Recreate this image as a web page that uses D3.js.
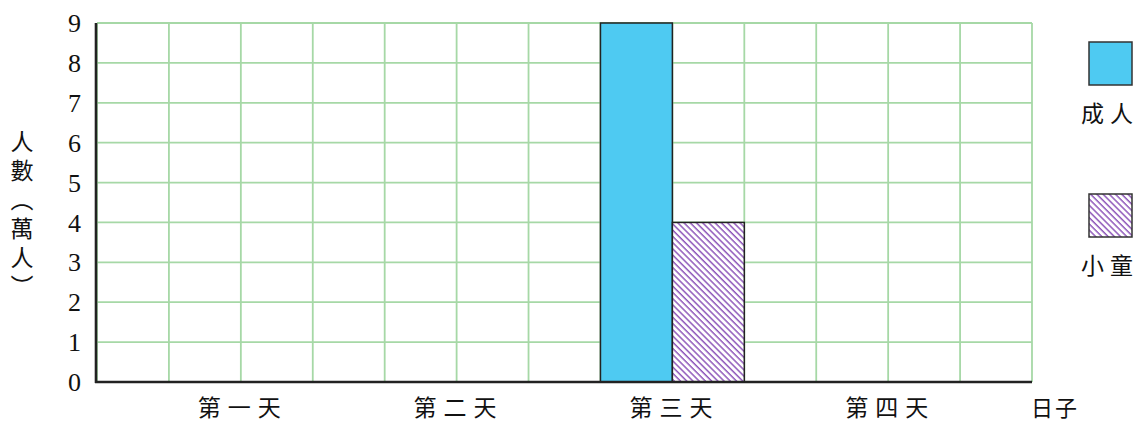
<!DOCTYPE html>
<html>
<head>
<meta charset="utf-8">
<script src="https://cdn.jsdelivr.net/npm/d3@7"></script>
<style>
  body { margin: 0; background: #fff; }
  svg { display: block; }
</style>
</head>
<body>
<div id="chart"></div>
<script>
// data (days 1, 2, 4 left blank in the original)
const days = ["第一天", "第二天", "第三天", "第四天"];
const series = ["成人", "小童"];
const adults = [null, null, 9, null];
const children = [null, null, 4, null];
const yTicks = [0, 1, 2, 3, 4, 5, 6, 7, 8, 9];
const yLabel = "人數（萬人）";
const xLabel = "日子";

const margin = { top: 23, right: 109, bottom: 41, left: 97 };
const width = 1141 - margin.left - margin.right;
const height = 423 - margin.top - margin.bottom;

const svg = d3.select("#chart")
    .append("svg")
    .attr("width", 1141)
    .attr("height", 423);

const defs = svg.append("defs");
const hatch = defs.append("pattern")
    .attr("id", "hatch")
    .attr("patternUnits", "userSpaceOnUse")
    .attr("width", 4.4)
    .attr("height", 4.4)
    .attr("patternTransform", "rotate(-45)");
hatch.append("rect").attr("width", 4.4).attr("height", 4.4).attr("fill", "#fff");
hatch.append("line")
    .attr("x1", 1).attr("x2", 1)
    .attr("y1", 0).attr("y2", 4.4)
    .attr("stroke", "#7e3fb0")
    .attr("stroke-width", 1.3);

const fills = { "成人": "#4ecaf2", "小童": "url(#hatch)" };

const g = svg.append("g")
    .attr("transform", "translate(" + margin.left + "," + margin.top + ")");

var x = d3.scaleBand()
    .domain(days)
    .range([0, width])
    .paddingInner(1 / 3)
    .paddingOuter(1 / 3);
var xSub = d3.scaleBand()
    .domain(series)
    .range([0, x.bandwidth()]);
var y = d3.scaleLinear()
    .domain([0, 9])
    .range([height, 0]);

// grid: one column per sub band
const col = x.step() / 3;
const nCols = Math.round(width / col);
g.append("g")
    .selectAll("line")
    .data(d3.range(nCols + 1))
    .join("line")
    .attr("x1", d => d * col)
    .attr("x2", d => d * col)
    .attr("y1", 0)
    .attr("y2", height)
    .attr("stroke", "#a6d8a6")
    .attr("stroke-width", 1.8);
g.append("g")
    .selectAll("line")
    .data(yTicks)
    .join("line")
    .attr("x1", 0)
    .attr("x2", width)
    .attr("y1", d => y(d))
    .attr("y2", d => y(d))
    .attr("stroke", "#a6d8a6")
    .attr("stroke-width", 1.8);

// bars
const rows = [];
days.forEach(function (d, i) {
    if (adults[i] != null) rows.push({ day: d, s: "成人", v: adults[i] });
    if (children[i] != null) rows.push({ day: d, s: "小童", v: children[i] });
});
g.append("g")
    .selectAll("rect")
    .data(rows)
    .join("rect")
    .attr("x", d => x(d.day) + xSub(d.s))
    .attr("y", d => y(d.v))
    .attr("width", xSub.bandwidth())
    .attr("height", d => y(0) - y(d.v))
    .attr("fill", d => fills[d.s])
    .attr("stroke", "#222")
    .attr("stroke-width", 1.5);

// axes lines
g.append("line")
    .attr("x1", -1).attr("x2", -1)
    .attr("y1", 0).attr("y2", height + 1)
    .attr("stroke", "#222").attr("stroke-width", 2.6);
g.append("line")
    .attr("x1", -2).attr("x2", width)
    .attr("y1", height).attr("y2", height)
    .attr("stroke", "#222").attr("stroke-width", 2.6);

// y tick labels
g.append("g")
    .selectAll("text")
    .data(yTicks)
    .join("text")
    .attr("x", -16)
    .attr("y", d => y(d))
    .attr("dy", "0.35em")
    .attr("text-anchor", "end")
    .style("font-family", "'Liberation Serif', 'DejaVu Serif', serif")
    .style("font-size", "26px")
    .style("fill", "#111")
    .text(d => d);

// x labels
g.append("g")
    .selectAll("text")
    .data(days)
    .join("text")
    .attr("x", d => x(d) + x.bandwidth() / 2 + 2)
    .attr("y", height + 34)
    .attr("text-anchor", "middle")
    .style("font-family", "'Noto Sans CJK TC', sans-serif")
    .style("font-size", "23px")
    .style("letter-spacing", "7px")
    .style("fill", "#111")
    .text(d => d);

svg.append("text")
    .attr("x", 1055)
    .attr("y", 416)
    .attr("text-anchor", "middle")
    .style("font-family", "'Noto Sans CJK TC', sans-serif")
    .style("font-size", "22px")
    .style("letter-spacing", "2px")
    .style("fill", "#111")
    .text(xLabel);

// vertical y label
svg.append("text")
    .attr("x", 22)
    .attr("y", 130)
    .attr("text-anchor", "start")
    .style("writing-mode", "vertical-rl")
    .style("font-family", "'Noto Sans CJK TC', sans-serif")
    .style("font-size", "23px")
    .style("letter-spacing", "6px")
    .style("fill", "#111")
    .text(yLabel);

// legend
const legend = svg.append("g")
    .selectAll("g")
    .data(series)
    .join("g")
    .attr("transform", (d, i) => "translate(1089," + (42 + i * 152) + ")");
legend.append("rect")
    .attr("width", 43)
    .attr("height", 43)
    .attr("fill", d => fills[d])
    .attr("stroke", "#333")
    .attr("stroke-width", 1.5);
legend.append("text")
    .attr("x", 21)
    .attr("y", 80)
    .attr("text-anchor", "middle")
    .style("font-family", "'Noto Sans CJK TC', sans-serif")
    .style("font-size", "23px")
    .style("letter-spacing", "6px")
    .style("fill", "#111")
    .text(d => d);
</script>
</body>
</html>
